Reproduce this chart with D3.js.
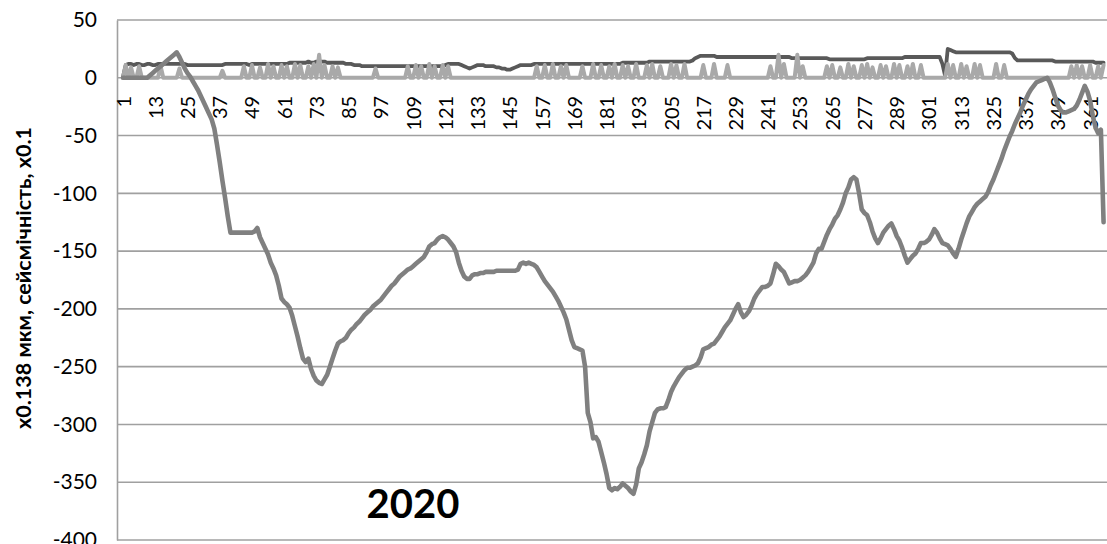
<!DOCTYPE html>
<html>
<head>
<meta charset="utf-8">
<script src="https://cdn.jsdelivr.net/npm/d3@7"></script>
<style>
  body { margin: 0; background: #fff; }
  svg { display: block; }
</style>
</head>
<body>
<svg id="chart" width="1107" height="544"></svg>
<script>
// Day of year, 2020 (leap year)
const days = d3.range(1, 367);

// Ground displacement, x0.138 µm
const displacement = [
  0,0,0,0,0,0,0,0,0,0, 2,4,6,8,10,12,14,16,18,20, 22,18,13,8,4,1,-3,-7,-11,-16,
  -21,-26,-31,-36,-44,-58,-73,-89,-104,-120, -134,-134,-134,-134,-134,-134,-134,-134,-134,-133, -130,-138,-143,-148,-153,-160,-165,-171,-180,-191,
  -194,-196,-199,-206,-215,-224,-234,-243,-246,-243, -252,-258,-262,-264,-265,-261,-257,-250,-243,-236, -230,-228,-227,-225,-221,-218,-216,-213,-211,-208,
  -205,-203,-201,-198,-196,-194,-192,-189,-186,-183, -180,-178,-175,-172,-170,-168,-166,-165,-163,-161, -159,-157,-155,-151,-146,-144,-143,-140,-138,-137,
  -138,-140,-143,-146,-151,-160,-167,-172,-174,-174, -171,-170,-170,-169,-169,-168,-168,-168,-168,-167, -167,-167,-167,-167,-167,-167,-167,-166,-161,-160,
  -161,-160,-161,-162,-164,-168,-172,-176,-179,-182, -185,-189,-193,-198,-203,-209,-218,-227,-233,-234, -235,-236,-250,-290,-298,-312,-311,-315,-324,-333,
  -343,-355,-357,-355,-356,-354,-351,-353,-355,-358, -360,-352,-338,-333,-326,-318,-306,-298,-290,-287, -286,-286,-285,-279,-272,-267,-263,-259,-256,-253,
  -251,-251,-250,-249,-247,-242,-235,-234,-233,-231, -230,-227,-224,-220,-216,-213,-210,-205,-200,-196, -203,-207,-205,-202,-197,-191,-187,-184,-181,-181,
  -180,-178,-170,-161,-163,-166,-168,-173,-178,-177, -176,-176,-175,-173,-171,-168,-164,-160,-152,-148, -148,-142,-136,-131,-127,-122,-119,-114,-108,-100,
  -95,-88,-86,-88,-100,-114,-117,-119,-125,-133, -139,-143,-139,-134,-131,-128,-126,-131,-137,-141, -147,-154,-160,-157,-154,-152,-148,-143,-143,-142,
  -140,-136,-131,-134,-139,-143,-144,-145,-148,-152, -155,-148,-140,-133,-126,-120,-116,-112,-109,-107, -105,-103,-99,-93,-88,-82,-76,-70,-63,-57,
  -51,-46,-40,-35,-30,-24,-19,-14,-10,-7, -4,-3,-2,-1,0,-4,-10,-17,-24,-28, -30,-30,-29,-28,-27,-24,-19,-13,-7,-12,
  -20,-33,-43,-48,-45,-125
];

// Reference channel level
const reference = [
  1,11,12,12,11,12,12,11,11,12, 12,11,11,12,12,12,12,12,12,12, 12,12,12,12,11,11,11,11,11,11,
  11,11,11,11,11,11,11,11,12,12, 12,12,12,12,12,12,12,11,12,12, 12,12,12,12,12,12,12,12,12,12,
  12,12,13,13,13,13,13,13,13,14, 13,13,14,14,14,14,13,13,13,13, 13,13,13,12,12,12,11,11,11,10,
  10,10,10,10,10,10,10,10,10,10, 10,10,10,10,10,10,10,10,10,10, 10,10,10,10,10,10,10,10,10,10,
  11,12,12,12,12,12,11,10,9,8, 9,10,11,11,11,10,10,10,10,9, 9,8,8,7,7,8,9,10,11,11,
  11,11,11,12,12,12,12,12,12,12, 12,12,12,12,12,12,12,12,12,12, 12,12,12,12,12,12,12,12,12,12,
  12,12,12,12,12,12,13,13,13,13, 13,13,13,13,13,13,14,14,14,14, 14,14,14,14,14,14,14,14,14,14,
  14,14,15,17,18,19,19,19,19,19, 19,18,18,18,18,18,18,18,18,18, 18,18,18,18,18,18,18,18,18,18,
  18,18,18,18,18,18,18,18,18,17, 17,17,17,17,17,17,17,17,17,17, 17,17,17,16,16,16,16,16,16,16,
  16,16,16,16,16,16,16,17,17,17, 17,17,17,17,17,17,17,17,17,17, 17,18,18,18,18,18,18,18,18,18,
  18,18,18,18,18,12,2,25,24,23, 22,22,22,22,22,22,22,22,22,22, 22,22,22,22,22,22,22,22,22,22,
  22,21,17,15,15,15,15,15,15,15, 15,15,15,15,15,15,15,14,14,14, 14,14,14,14,14,14,14,14,14,14,
  14,14,13,13,13,13
];

// Seismicity, x0.1
const seismicity = [
  0,11,0,9,0,0,10,0,0,0, 0,0,0,0,10,0,0,0,0,0, 0,8,0,0,0,0,0,0,0,0,
  0,0,0,0,0,0,0,6,0,0, 0,0,0,0,0,10,0,0,11,0, 0,9,0,0,12,0,10,0,0,11,
  0,10,0,0,12,0,11,0,0,10, 0,12,0,20,0,11,0,0,10,0, 9,0,0,0,0,0,0,0,0,0,
  0,0,0,0,8,0,0,0,0,0, 0,0,0,0,0,0,10,0,0,11, 0,10,0,0,12,0,10,0,0,11,
  0,10,0,0,0,0,0,0,0,0, 0,0,0,0,0,0,0,0,0,0, 0,0,0,0,0,0,0,0,0,0,
  0,0,0,0,10,0,0,11,0,0, 12,0,0,10,0,11,0,0,0,0, 0,10,0,0,0,12,0,0,11,0,
  0,10,0,12,0,0,11,0,10,0, 0,12,0,0,0,11,0,12,0,0, 10,0,0,0,12,0,11,0,0,12,
  0,0,0,0,0,0,11,0,0,0, 12,0,0,0,0,11,0,0,0,0, 0,0,0,0,0,0,0,0,0,0,
  0,10,0,0,20,0,12,0,0,0, 0,20,0,10,0,0,0,0,0,0, 0,0,10,0,11,0,0,9,0,0,
  12,0,10,0,0,11,0,12,0,9, 0,0,11,0,10,0,0,12,0,11, 0,0,10,0,12,0,0,11,0,0,
  0,0,0,0,0,0,0,12,0,11, 0,0,12,0,10,0,0,12,0,11, 0,0,0,0,0,12,0,0,11,0,
  0,0,0,0,0,0,0,0,0,0, 0,0,0,0,0,0,0,0,0,0, 0,0,0,10,0,11,0,10,0,0,
  11,0,0,10,0,11
];

const yTicks = [50, 0, -50, -100, -150, -200, -250, -300, -350, -400];
const xTickLabels = [1,13,25,37,49,61,73,85,97,109,121,133,145,157,169,181,193,205,217,229,241,253,265,277,289,301,313,325,337,349,361];
const yTitle = "x0.138 мкм, сейсмічність, x0.1";
const yearLabel = "2020";

const svg = d3.select("#chart");
const W = 1107, H = 544;
const plot = { left: 117, top: 20, bottom: 540 };

svg.append("rect").attr("width", W).attr("height", H).attr("fill", "#fff");

const x = d3.scalePoint().domain(days).range([123, 123 + 365 * 2.6865]);
const y = d3.scaleLinear().domain([-400, 50]).range([plot.bottom, plot.top]);

// Horizontal gridlines
svg.append("g")
  .selectAll("line")
  .data(yTicks)
  .join("line")
  .attr("x1", plot.left).attr("x2", W)
  .attr("y1", d => y(d)).attr("y2", d => y(d))
  .attr("stroke", "#a0a0a0").attr("stroke-width", 1.6);

// Value axis
const yAxis = d3.axisLeft(y).tickValues(yTicks).tickSize(0).tickPadding(20).tickFormat(d => String(d));
const gy = svg.append("g").attr("transform", `translate(${plot.left},0)`).call(yAxis);
gy.select(".domain").attr("stroke", "#a0a0a0").attr("stroke-width", 1.6);
gy.selectAll("text")
  .attr("font-family", "Lato, 'Liberation Sans', sans-serif")
  .attr("font-size", 21).attr("fill", "#000");

// Category labels along the zero line
const xAxis = d3.axisBottom(x).tickValues(xTickLabels).tickSize(0).tickPadding(0);
const gx = svg.append("g").attr("transform", `translate(0,${y(0)})`).call(xAxis);
gx.select(".domain").remove();
gx.selectAll("text")
  .attr("font-family", "Lato, 'Liberation Sans', sans-serif")
  .attr("font-size", 20).attr("fill", "#000")
  .attr("transform", "rotate(-90)")
  .attr("text-anchor", "end")
  .attr("x", -18).attr("y", 0).attr("dy", "0.35em");

// Series
const line = d3.line().x((d, i) => x(days[i])).y(d => y(d));
const series = [
  { values: reference, color: "#595959", width: 3.8 },
  { values: seismicity, color: "#a9a9a9", width: 4 },
  { values: displacement, color: "#808080", width: 4.6 }
];
svg.append("g")
  .selectAll("path")
  .data(series)
  .join("path")
  .attr("d", s => line(s.values))
  .attr("fill", "none")
  .attr("stroke", s => s.color)
  .attr("stroke-width", s => s.width)
  .attr("stroke-linejoin", "round")
  .attr("stroke-linecap", "round");

// Axis title
svg.append("text")
  .attr("transform", "translate(23,278) rotate(-90)")
  .attr("text-anchor", "middle")
  .attr("dy", "0.35em")
  .attr("font-family", "Lato, 'Liberation Sans', sans-serif")
  .attr("font-weight", "bold")
  .attr("font-size", 21.5)
  .attr("fill", "#000")
  .text(yTitle);

// Year caption
svg.append("text")
  .attr("x", 413).attr("y", 518)
  .attr("text-anchor", "middle")
  .attr("font-family", "Lato, 'Liberation Sans', sans-serif")
  .attr("font-weight", "bold")
  .attr("font-size", 40)
  .attr("fill", "#000")
  .text(yearLabel);
</script>
</body>
</html>
